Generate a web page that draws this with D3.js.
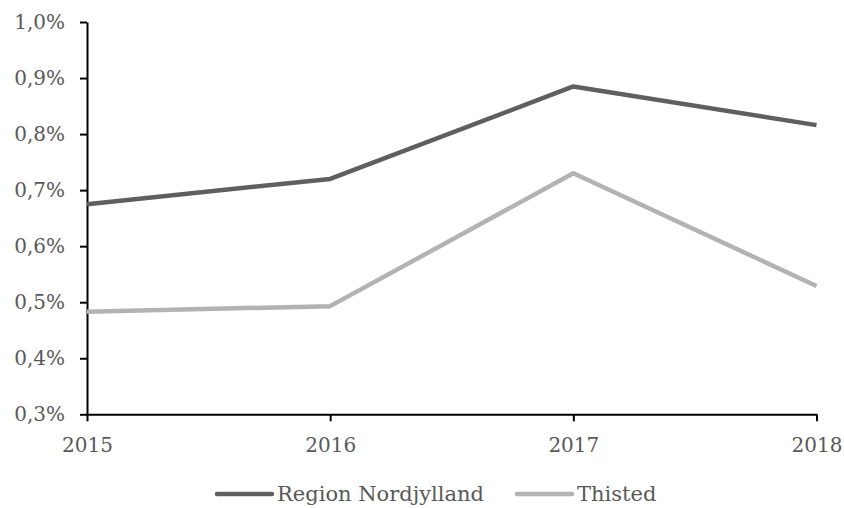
<!DOCTYPE html>
<html><head><meta charset="utf-8">
<script src="https://cdn.jsdelivr.net/npm/d3@7"></script>
<style>body{margin:0;background:#fff}svg text{font-family:"DejaVu Serif","Liberation Serif",serif;fill:#595959}</style>
</head><body><svg id="c" width="844" height="508"></svg>
<script>
const years = ["2015","2016","2017","2018"];
const nordjylland = [0.675, 0.720, 0.885, 0.816];
const thisted = [0.483, 0.493, 0.730, 0.529];
const yTicks = [0.3,0.4,0.5,0.6,0.7,0.8,0.9,1.0];
const seriesNames = ["Region Nordjylland","Thisted"];
const colors = ["#5f5f5f","#b3b3b3"];

const svg = d3.select("#c");
const x = d3.scalePoint().domain(years).range([87, 816.5]);
const y = d3.scaleLinear().domain([0.3, 1.0]).range([414.3, 22]);
const fmt = d => d3.format(".1f")(d).replace(".", ",") + "%";

const ya = svg.append("g").attr("transform","translate(87,0)")
  .call(d3.axisLeft(y).tickValues(yTicks).tickFormat(fmt).tickSize(7).tickSizeOuter(0).tickPadding(15));
ya.select(".domain").attr("stroke","#000").attr("stroke-width",2);
ya.selectAll(".tick line").attr("stroke","#000").attr("stroke-width",2);
ya.selectAll("text").attr("font-size",20).style("font-family",'"DejaVu Serif",serif').attr("fill","#595959");

const xa = svg.append("g").attr("transform","translate(0,414.3)")
  .call(d3.axisBottom(x).tickSize(7).tickSizeOuter(0).tickPadding(17));
xa.select(".domain").attr("stroke","#000").attr("stroke-width",2);
xa.selectAll(".tick line").attr("stroke","#000").attr("stroke-width",2);
xa.selectAll("text").attr("font-size",20).style("font-family",'"DejaVu Serif",serif').attr("fill","#595959");

const line = d3.line().x((d,i)=>x(years[i])).y(d=>y(d));
[nordjylland, thisted].forEach((s,k)=>{
  svg.append("path").datum(s).attr("d",line).attr("fill","none")
    .attr("stroke",colors[k]).attr("stroke-width",4.5).attr("stroke-linejoin","round");
});

const legX = [217, 517];
seriesNames.forEach((n,k)=>{
  const g = svg.append("g").attr("transform",`translate(${legX[k]},494)`);
  g.append("line").attr("x1",0).attr("x2",55).attr("stroke",colors[k]).attr("stroke-width",4.5).attr("stroke-linecap","round");
  g.append("text").attr("x",60).attr("y",7).attr("font-size",21).text(n);
});
</script></body></html>
